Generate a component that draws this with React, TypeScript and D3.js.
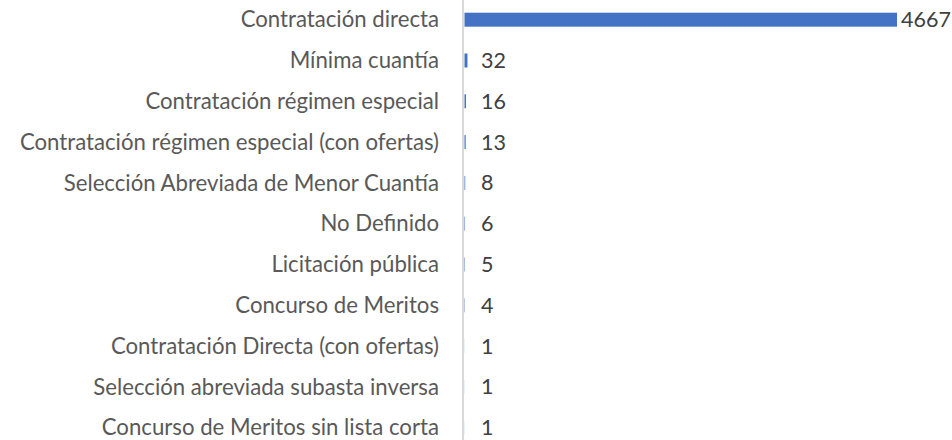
import React from "react";
import * as d3 from "d3";

const categories = [
  "Contratación directa",
  "Mínima cuantía",
  "Contratación régimen especial",
  "Contratación régimen especial (con ofertas)",
  "Selección Abreviada de Menor Cuantía",
  "No Definido",
  "Licitación pública",
  "Concurso de Meritos",
  "Contratación Directa (con ofertas)",
  "Selección abreviada subasta inversa",
  "Concurso de Meritos sin lista corta",
];
const values = [4667, 32, 16, 13, 8, 6, 5, 4, 1, 1, 1];

const W = 952;
const H = 440;
const FONT = "Lato, 'Open Sans', sans-serif";
const FS = 22.2;
const FSV = 21.5;

export default function App() {
  const x = d3.scaleLinear().domain([0, 4667]).range([464.5, 897]);
  const y = d3.scalePoint<string>().domain(categories).range([19.7, 427.7]);
  const barH = 14;
  return (
    <svg
      width={W}
      height={H}
      style={{ position: "absolute", left: 0, top: 0, background: "#fff" }}
      fontFamily={FONT}
    >
      {categories.map((c, i) => {
        const cy = y(c)!;
        const xe = x(values[i]);
        return (
          <g key={c}>
            <text x={439} y={cy} dy="0.35em" textAnchor="end" fontSize={FS} fill="#595959">
              {c}
            </text>
            <rect x={x(0)} y={cy - barH / 2} width={xe - x(0)} height={barH} fill="#4472C4" />
            <text x={Math.max(xe + 4, 481)} y={cy} dy="0.35em" fontSize={FSV} fill="#404040">
              {values[i]}
            </text>
          </g>
        );
      })}
      <line x1={463} x2={463} y1={0} y2={440} stroke="#d9d9d9" strokeWidth={2} />
    </svg>
  );
}
